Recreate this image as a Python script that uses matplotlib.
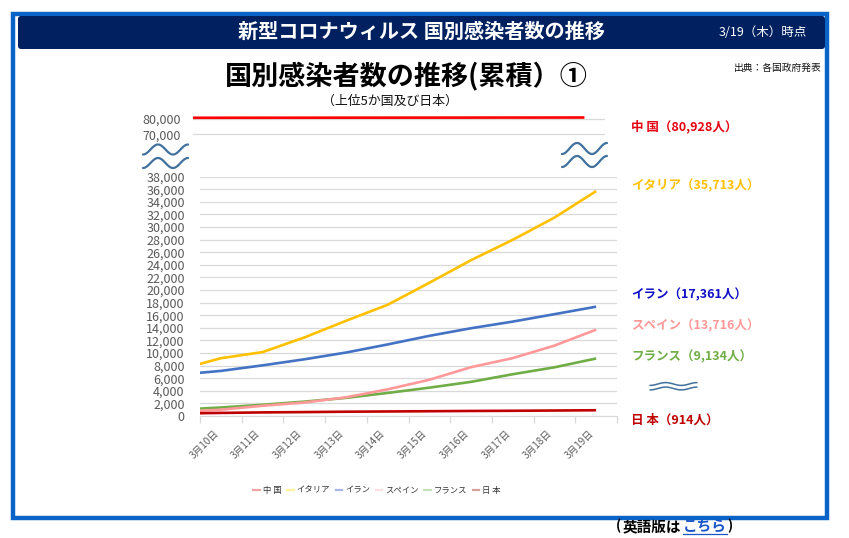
import numpy as np
import matplotlib
matplotlib.use("Agg")
import matplotlib.pyplot as plt
from matplotlib.lines import Line2D
from matplotlib.patches import FancyBboxPatch, Rectangle
import matplotlib.transforms as mtransforms
from matplotlib.ticker import FuncFormatter, FixedLocator

plt.rcParams['font.family'] = ['Noto Sans CJK JP', 'DejaVu Sans']

# ---------------- data ----------------
# first entry (3/9) is the lead-in point that sits just left of the axis start
dates = ["3月9日", "3月10日", "3月11日", "3月12日", "3月13日", "3月14日",
         "3月15日", "3月16日", "3月17日", "3月18日", "3月19日"]
tick_labels = dates[1:]

china = [80735, 80754, 80778, 80793, 80813, 80824, 80844, 80860, 80881, 80894, 80928]
italy = [7375, 9172, 10149, 12462, 15113, 17660, 21157, 24747, 27980, 31506, 35713]
iran = [6566, 7161, 8042, 9000, 10075, 11364, 12729, 13938, 14991, 16169, 17361]
spain = [673, 999, 1622, 2140, 2965, 4231, 5753, 7753, 9191, 11178, 13716]
france = [1000, 1350, 1784, 2281, 2876, 3661, 4499, 5423, 6633, 7730, 9134]
japan = [390, 490, 570, 620, 680, 720, 760, 800, 830, 870, 914]

names = ["中 国", "イタリア", "イラン", "スペイン", "フランス", "日 本"]
line_colors = ["#FF0000", "#FFC000", "#4472C4", "#FF9999", "#70AD47", "#C00000"]
label_colors = ["#E60012", "#FFC000", "#1010C8", "#FF9999", "#70AD47", "#C00000"]
legend_colors = ["#EFA3A3", "#FFF39A", "#AAB6E6", "#F9E1E1", "#C8E2B8", "#D9A19B"]

low_ticks = list(range(0, 38001, 2000))
top_ticks = [70000, 80000]

# ---------------- figure ----------------
W, H = 849, 538
fig = plt.figure(figsize=(W / 100, H / 100), dpi=100)
fig.patch.set_facecolor("white")


def fx(px):
    return px / W


def fy(py):
    return 1 - py / H


x = np.arange(len(dates)) - 1
grid_c = "#D9D9D9"
tick_c = "#595959"
fmt = FuncFormatter(lambda v, p: f"{int(v):,}")

# lower chart
ax = fig.add_axes([fx(200), fy(416), fx(617) - fx(200), fy(176.7) - fy(416)])
ax.set_xlim(-0.5, 9.5)
ax.set_ylim(0, 38000)
ax.set_yticks(low_ticks)
ax.yaxis.set_major_formatter(fmt)
ax.grid(axis="y", color=grid_c, lw=0.9)
ax.set_axisbelow(True)
for s in ["top", "left", "right"]:
    ax.spines[s].set_visible(False)
ax.spines["bottom"].set_color(grid_c)
ax.tick_params(axis="y", length=0, pad=11, labelsize=9, labelcolor=tick_c)
ax.set_xticks(np.arange(10))
ax.set_xticklabels(tick_labels, rotation=45, ha="right", va="center",
                   rotation_mode="anchor", fontsize=7, color=tick_c)
ax.tick_params(axis="x", which="major", length=0, pad=0)
ax.xaxis.set_minor_locator(FixedLocator(np.arange(-0.5, 10, 1)))
ax.tick_params(axis="x", which="minor", length=5, color=grid_c, width=0.9)
off = mtransforms.ScaledTranslation(-0.04, -0.16, fig.dpi_scale_trans)
for lab in ax.get_xticklabels():
    lab.set_transform(lab.get_transform() + off)

series = [italy, iran, france, spain, japan]
cols = [line_colors[1], line_colors[2], line_colors[4], line_colors[3], line_colors[5]]
for i, (s, c) in enumerate(zip(series, cols)):
    ax.plot(x, s, color=c, lw=1.9, solid_capstyle="butt", zorder=3 + i)

# upper chart (China)
axt = fig.add_axes([fx(193), fy(140), fx(605) - fx(193), fy(112) - fy(140)])
axt.set_xlim(-0.5, 9.5)
axt.set_ylim(66300, 84500)
axt.set_yticks(top_ticks)
axt.yaxis.set_major_formatter(fmt)
axt.set_xticks([])
axt.grid(axis="y", color=grid_c, lw=0.9)
axt.set_axisbelow(True)
for s in axt.spines.values():
    s.set_visible(False)
axt.tick_params(axis="y", length=0, pad=9, labelsize=9, labelcolor=tick_c)
axt.plot(x, china, color=line_colors[0], lw=1.9, solid_capstyle="butt")
axt.patch.set_alpha(0)

# ---------------- overlay decorations ----------------
ov = fig.add_axes([0, 0, 1, 1], zorder=10)
ov.set_xlim(0, W)
ov.set_ylim(H, 0)
ov.axis("off")
ov.patch.set_alpha(0)

# outer blue frame
ov.add_patch(Rectangle((13.5, 13.5), 814, 504, fill=False, ec="#0A64C8", lw=3.2))
# header
ov.add_patch(FancyBboxPatch((18, 16), 807, 33, boxstyle="round,pad=0,rounding_size=3",
                            fc="#002060", ec="none"))
ov.text(421, 31.5, "新型コロナウィルス 国別感染者数の推移", color="white",
        fontsize=14.5, fontweight="bold", ha="center", va="center")
ov.text(763, 32, "3/19（木）時点", color="white", fontsize=9, ha="center", va="center")

# titles
ov.text(406, 76, "国別感染者数の推移(累積）①", fontsize=19.5, fontweight="bold",
        ha="center", va="center", color="black")
ov.text(390, 101, "（上位5か国及び日本）", fontsize=9.3, ha="center", va="center",
        color="#111111")
ov.text(778, 68, "出典：各国政府発表", fontsize=7, ha="center", va="center",
        color="#111111")

# right-hand labels
last_vals = [china[-1], italy[-1], iran[-1], spain[-1], france[-1], japan[-1]]
label_y = [127, 186, 295, 326, 357, 420]
for n, v, yy, c in zip(names, last_vals, label_y, label_colors):
    ov.text(631, yy, f"{n}（{v:,}人）", color=c, fontsize=9, fontweight="bold",
            ha="left", va="center")

# axis-break waves
wave_c = "#41719C"


def wave(x0, x1, yc, amp, lw):
    t = np.linspace(0, 1, 120)
    ov.plot(x0 + (x1 - x0) * t, yc + amp * np.cos(2 * np.pi * 1.5 * t),
            color=wave_c, lw=lw, solid_capstyle="round")


wave(143, 188, 149.5, 5, 1.6)
wave(143, 188, 163, 5, 1.6)
wave(562, 607, 148.5, 5.5, 1.6)
wave(562, 607, 161.5, 5.5, 1.6)
wave(650, 697, 384, 1.4, 1.1)
wave(650, 697, 388.5, 1.4, 1.1)

# legend
handles = [Line2D([0], [0], color=c, lw=1.6) for c in legend_colors]
fig.legend(handles, names, loc="center", bbox_to_anchor=(fx(377), fy(490)),
           ncol=6, frameon=False, fontsize=6, handlelength=0.8,
           handletextpad=0.3, columnspacing=0.7, labelcolor="#333333")

# English version link
ov.text(616, 526, "(", fontsize=10, fontweight="bold", ha="left", va="center")
ov.text(623, 526, "英語版は", fontsize=10.5, fontweight="bold", ha="left", va="center")
ov.text(683, 526, "こちら", fontsize=10.5, fontweight="bold", ha="left", va="center",
        color="#1a55c8")
ov.plot([683, 727], [534, 534], color="#1a55c8", lw=0.9)
ov.text(727, 526, ")", fontsize=10, fontweight="bold", ha="left", va="center")

fig.savefig("out.png", dpi=100, facecolor="white")
